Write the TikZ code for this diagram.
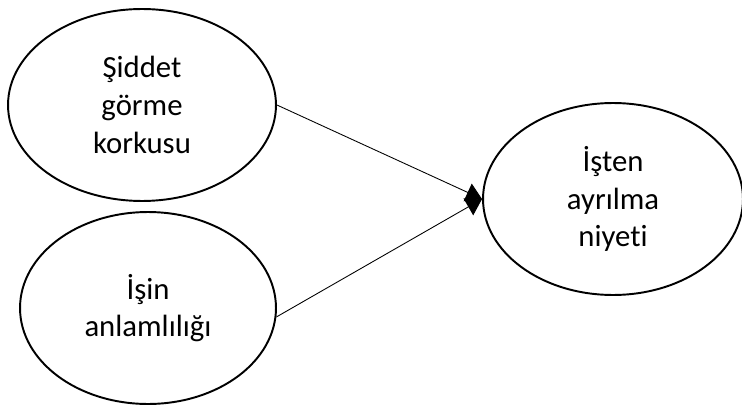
\documentclass[tikz,border=0pt]{standalone}
\usepackage{fontspec}
\setmainfont{Carlito}[Ligatures=NoCommon]
\usetikzlibrary{shapes.geometric,arrows.meta}

\tikzset{
  construct/.style={draw, ellipse, line width=1.1pt, inner sep=0pt,
    minimum height=3.84cm, align=center,
    font=\fontsize{17.5}{21.5}\selectfont},
  path/.style={line width=0.5pt, -{Triangle[length=9pt,width=11pt]}}
}

\begin{document}
\begin{tikzpicture}[x=0.02cm,y=-0.02cm]
  \useasboundingbox (0,0) rectangle (742,405);

  \node[construct, minimum width=5.36cm] (fear) at (142,105) {Şiddet\\görme\\korkusu};
  \node[construct, minimum width=5.12cm] (mean) at (148,308) {İşin\\anlamlılığı};
  \node[construct, minimum width=5.2cm] (quit) at (613,199) {İşten\\ayrılma\\niyeti};

  \draw[path] (fear.east) -- (quit.west);
  \draw[path] (mean.-4) -- (quit.west);
\end{tikzpicture}
\end{document}
